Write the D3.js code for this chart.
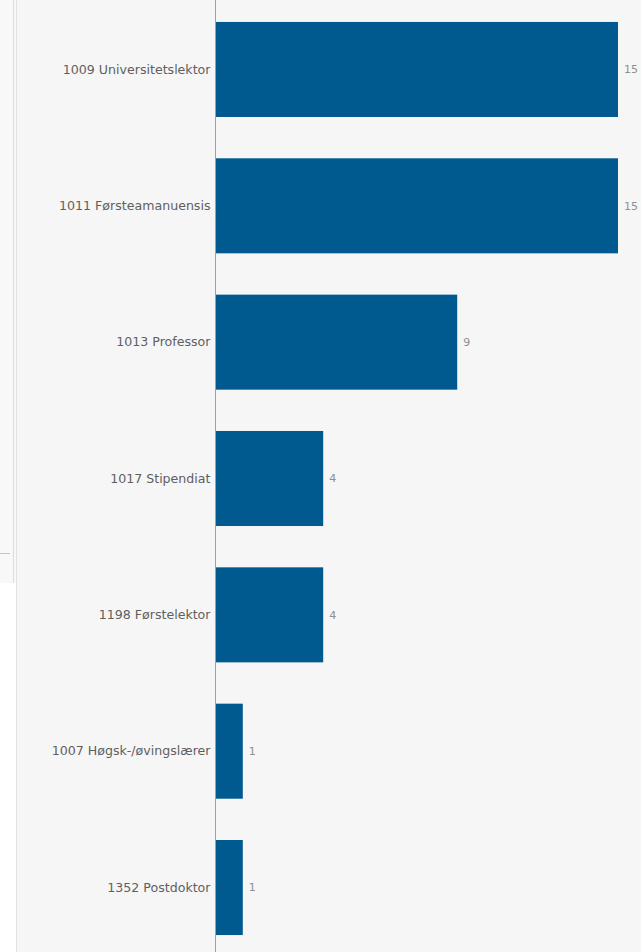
<!DOCTYPE html>
<html>
<head>
<meta charset="utf-8">
<script src="https://cdn.jsdelivr.net/npm/d3@7"></script>
<style>
  html, body { margin: 0; padding: 0; background: #f6f6f6; }
  svg { display: block; }
</style>
</head>
<body>
<svg id="chart" width="641" height="952"></svg>
<script>
// Staff positions and head counts
const categories = [
  "1009 Universitetslektor",
  "1011 Førsteamanuensis",
  "1013 Professor",
  "1017 Stipendiat",
  "1198 Førstelektor",
  "1007 Høgsk-/øvingslærer",
  "1352 Postdoktor"
];
const counts = [15, 15, 9, 4, 4, 1, 1];

const W = 641, H = 952;
const axisX = 215.5;

const svg = d3.select("#chart");

// side panel remnants on the left edge
svg.append("rect").attr("x", 0).attr("y", 0).attr("width", 16).attr("height", 583).attr("fill", "#f8f8f8");
svg.append("rect").attr("x", 0).attr("y", 583).attr("width", 16).attr("height", H - 583).attr("fill", "#ffffff");
svg.append("line").attr("x1", 13.5).attr("x2", 13.5).attr("y1", 0).attr("y2", 583)
  .attr("stroke", "#dcdcdc").attr("stroke-width", 1);
svg.append("line").attr("x1", 0).attr("x2", 10).attr("y1", 553.5).attr("y2", 553.5)
  .attr("stroke", "#c4c4c4").attr("stroke-width", 1);
svg.append("line").attr("x1", 16.5).attr("x2", 16.5).attr("y1", 0).attr("y2", H)
  .attr("stroke", "#e2e2e2").attr("stroke-width", 1);

const x = d3.scaleLinear().domain([0, 15]).range([axisX + 0.5, 618]);
const y = d3.scaleBand().domain(categories).range([1.5, 955.5]).paddingInner(0.303).paddingOuter(0.15);

const data = categories.map((c, i) => ({ cat: c, v: counts[i] }));

// bars
svg.append("g").selectAll("rect").data(data).join("rect")
  .attr("x", x(0))
  .attr("y", d => y(d.cat))
  .attr("width", d => x(d.v) - x(0))
  .attr("height", y.bandwidth())
  .attr("fill", "#005a8f");

// value labels
svg.append("g").selectAll("text").data(data).join("text")
  .attr("x", d => x(d.v) + 6)
  .attr("y", d => y(d.cat) + y.bandwidth() / 2)
  .attr("dy", "0.35em")
  .attr("font-family", "'DejaVu Sans', sans-serif")
  .attr("font-size", 11)
  .attr("fill", "#8f8f8f")
  .text(d => d.v);

// category axis
const yAxis = d3.axisLeft(y).tickSize(0).tickPadding(5);
const gAxis = svg.append("g").attr("transform", `translate(${axisX},0)`).call(yAxis);
gAxis.select(".domain").attr("stroke", "#a0a0a0").attr("d", `M0,0V${H}`);
gAxis.selectAll("text")
  .attr("font-family", "'DejaVu Sans', sans-serif")
  .attr("font-size", 12.6)
  .attr("fill", "#5f5f5f");
</script>
</body>
</html>
